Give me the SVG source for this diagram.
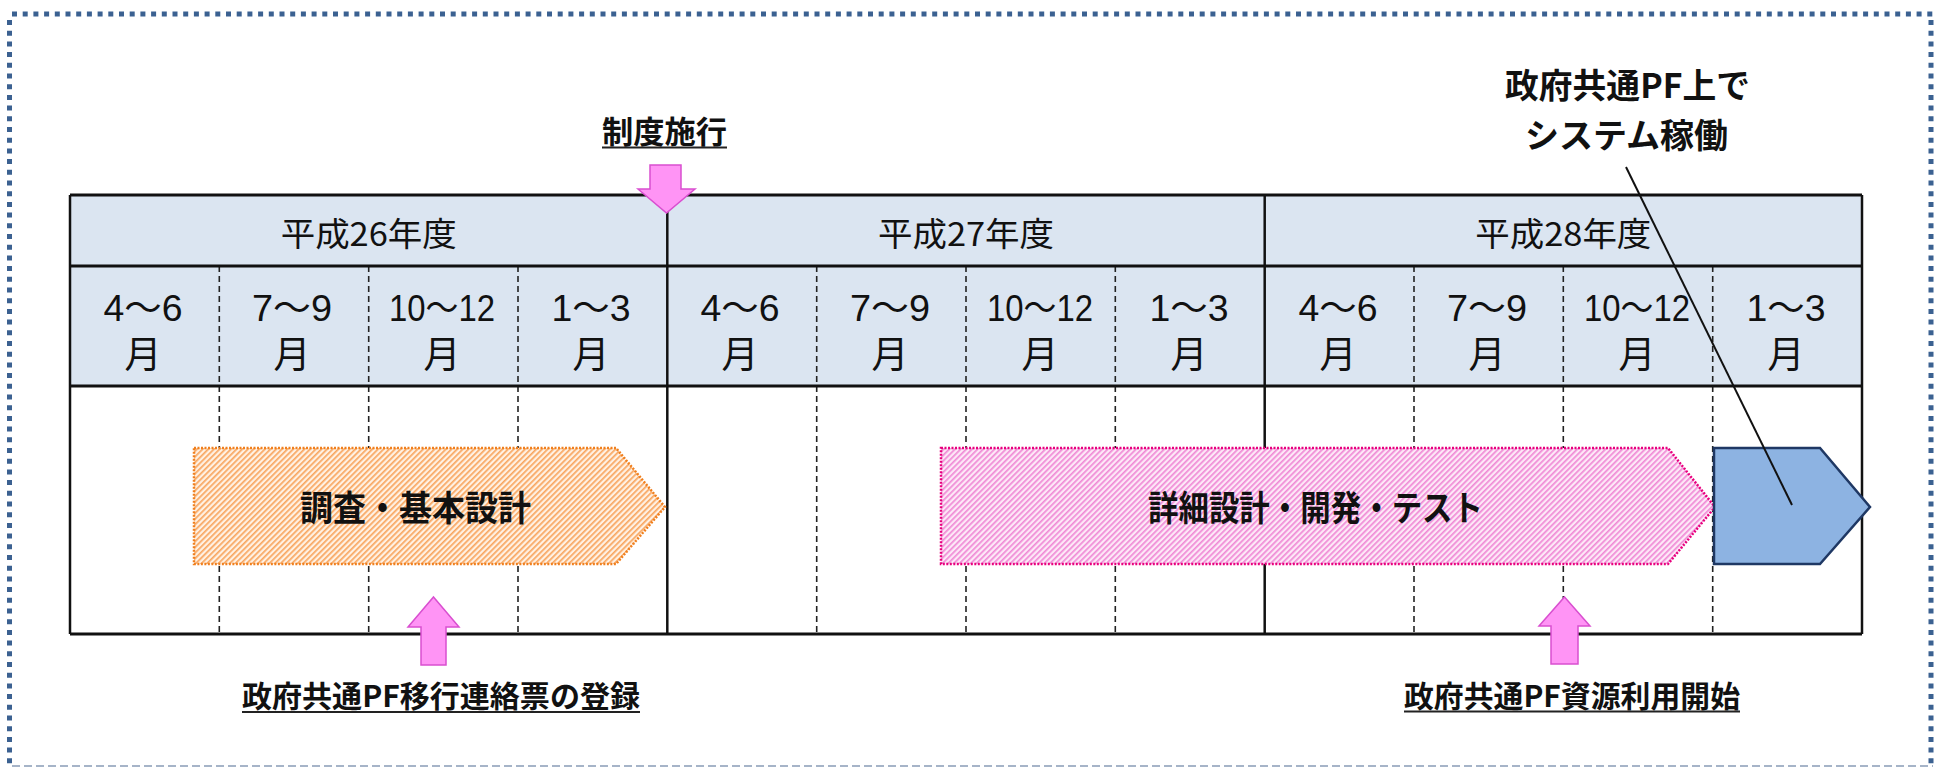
<svg xmlns="http://www.w3.org/2000/svg" width="1937" height="768" viewBox="0 0 1937 768">
<style>
.yr{font-family:"Noto Sans CJK JP","Noto Sans",sans-serif;font-size:33px;fill:#111;text-anchor:middle}
.mo{font-family:"Liberation Sans","Noto Sans CJK JP",sans-serif;font-size:36px;fill:#111;text-anchor:middle}
.mj{font-family:"Noto Sans CJK JP",sans-serif;font-size:37px;fill:#111;text-anchor:middle}
.lb{font-family:"Noto Sans CJK JP",sans-serif;font-weight:bold;fill:#111;text-anchor:middle}
.hl{stroke:#111;stroke-width:3;fill:none}
.vl{stroke:#111;stroke-width:2.5;fill:none}
.dl{stroke:#222;stroke-width:1.6;stroke-dasharray:6 4;fill:none}
.ul{stroke:#222;stroke-width:2;fill:none}
.parrow{fill:#ff94f5;stroke:#d94fd0;stroke-width:1.5}
</style>
<defs>
<pattern id="hatchO" width="4" height="4" patternUnits="userSpaceOnUse" patternTransform="rotate(45)">
<rect width="4" height="4" fill="#fff1e3"/>
<rect width="1.7" height="4" fill="#f8a660"/>
</pattern>
<pattern id="hatchP" width="4" height="4" patternUnits="userSpaceOnUse" patternTransform="rotate(45)">
<rect width="4" height="4" fill="#fde8f7"/>
<rect width="1.7" height="4" fill="#f08ad6"/>
</pattern>
</defs>
<rect x="0" y="0" width="1937" height="768" fill="#fff"/>
<g id="frame">
<line x1="12" y1="14" x2="1933" y2="14" stroke="#3b6191" stroke-width="5" stroke-dasharray="5 5.7"/>
<line x1="9.5" y1="20" x2="9.5" y2="766" stroke="#3b6191" stroke-width="5" stroke-dasharray="5 5.7"/>
<line x1="1931" y1="20" x2="1931" y2="766" stroke="#3b6191" stroke-width="5" stroke-dasharray="5 5.7"/>
<line x1="12" y1="766" x2="1933" y2="766" stroke="#a6b4c8" stroke-width="2" stroke-dasharray="8 4"/>
</g>
<g id="table">
<rect x="70" y="195" width="1792" height="191" fill="#dbe5f1"/>
<rect x="70" y="386" width="1792" height="248" fill="#fff"/>
<g id="dashes">
<line class="dl" x1="219.3" y1="266" x2="219.3" y2="634"/>
<line class="dl" x1="368.7" y1="266" x2="368.7" y2="634"/>
<line class="dl" x1="518" y1="266" x2="518" y2="634"/>
<line class="dl" x1="816.7" y1="266" x2="816.7" y2="634"/>
<line class="dl" x1="966" y1="266" x2="966" y2="634"/>
<line class="dl" x1="1115.3" y1="266" x2="1115.3" y2="634"/>
<line class="dl" x1="1414" y1="266" x2="1414" y2="634"/>
<line class="dl" x1="1563.3" y1="266" x2="1563.3" y2="634"/>
<line class="dl" x1="1712.7" y1="266" x2="1712.7" y2="634"/>
</g>
<line class="vl" x1="70" y1="195" x2="70" y2="634"/>
<line class="vl" x1="667.3" y1="195" x2="667.3" y2="634"/>
<line class="vl" x1="1264.7" y1="195" x2="1264.7" y2="634"/>
<line class="vl" x1="1862" y1="195" x2="1862" y2="634"/>
<line class="hl" x1="70" y1="195" x2="1862" y2="195"/>
<line class="hl" x1="70" y1="266" x2="1862" y2="266"/>
<line class="hl" x1="70" y1="386" x2="1862" y2="386"/>
<line class="hl" x1="70" y1="634" x2="1862" y2="634"/>
<text class="yr" x="368.7" y="246" textLength="176" lengthAdjust="spacingAndGlyphs">平成26年度</text>
<text class="yr" x="966" y="246" textLength="176" lengthAdjust="spacingAndGlyphs">平成27年度</text>
<text class="yr" x="1563.3" y="246" textLength="176" lengthAdjust="spacingAndGlyphs">平成28年度</text>
<g id="months">
<text class="mo" x="143" y="321" textLength="79" lengthAdjust="spacingAndGlyphs">4～6</text>
<text class="mo" x="292" y="321" textLength="80" lengthAdjust="spacingAndGlyphs">7～9</text>
<text class="mo" x="442" y="321" font-size="32" textLength="106" lengthAdjust="spacingAndGlyphs">10～12</text>
<text class="mo" x="591" y="321" textLength="79" lengthAdjust="spacingAndGlyphs">1～3</text>
<text class="mo" x="740" y="321" textLength="79" lengthAdjust="spacingAndGlyphs">4～6</text>
<text class="mo" x="890" y="321" textLength="80" lengthAdjust="spacingAndGlyphs">7～9</text>
<text class="mo" x="1040" y="321" font-size="32" textLength="106" lengthAdjust="spacingAndGlyphs">10～12</text>
<text class="mo" x="1189" y="321" textLength="79" lengthAdjust="spacingAndGlyphs">1～3</text>
<text class="mo" x="1338" y="321" textLength="79" lengthAdjust="spacingAndGlyphs">4～6</text>
<text class="mo" x="1487" y="321" textLength="80" lengthAdjust="spacingAndGlyphs">7～9</text>
<text class="mo" x="1637" y="321" font-size="32" textLength="106" lengthAdjust="spacingAndGlyphs">10～12</text>
<text class="mo" x="1786" y="321" textLength="79" lengthAdjust="spacingAndGlyphs">1～3</text>
<text class="mj" x="143" y="368">月</text>
<text class="mj" x="292" y="368">月</text>
<text class="mj" x="442" y="368">月</text>
<text class="mj" x="591" y="368">月</text>
<text class="mj" x="740" y="368">月</text>
<text class="mj" x="890" y="368">月</text>
<text class="mj" x="1040" y="368">月</text>
<text class="mj" x="1189" y="368">月</text>
<text class="mj" x="1338" y="368">月</text>
<text class="mj" x="1487" y="368">月</text>
<text class="mj" x="1637" y="368">月</text>
<text class="mj" x="1786" y="368">月</text>
</g>
</g>
<g id="bar-survey">
<polygon points="194,448 616,448 665,507 616,564 194,564" fill="url(#hatchO)" stroke="#f07f1d" stroke-width="2.5" stroke-dasharray="2 1.5"/>
<text class="lb" x="415.5" y="521" font-size="35" textLength="231" lengthAdjust="spacingAndGlyphs">調査・基本設計</text>
</g>
<g id="bar-dev">
<polygon points="941,448 1668,448 1715,507 1668,564 941,564" fill="url(#hatchP)" stroke="#e8007d" stroke-width="2.5" stroke-dasharray="2 1.5"/>
<text class="lb" x="1315.5" y="521" font-size="35" textLength="335" lengthAdjust="spacingAndGlyphs">詳細設計・開発・テスト</text>
</g>
<g id="bar-run">
<polygon points="1714,448 1820,448 1870,507 1820,564 1714,564" fill="#8db3e2" stroke="#1f3864" stroke-width="2.5"/>
</g>
<g id="label-enforce">
<text class="lb" x="664.5" y="143" font-size="31" textLength="125" lengthAdjust="spacingAndGlyphs">制度施行</text>
<line class="ul" x1="602" y1="147.5" x2="727" y2="147.5"/>
<polygon class="parrow" points="650,165 681,165 681,189 695,189 666.5,213 638,189 650,189"/>
</g>
<g id="label-register">
<polygon class="parrow" points="433.5,597 459,627 446,627 446,665 421,665 421,627 408,627"/>
<text class="lb" x="441" y="707" font-size="30" textLength="398" lengthAdjust="spacingAndGlyphs">政府共通PF移行連絡票の登録</text>
<line class="ul" x1="242" y1="712" x2="640" y2="712"/>
</g>
<g id="label-resource">
<polygon class="parrow" points="1564.5,597 1590,626 1578,626 1578,664 1551,664 1551,626 1539,626"/>
<text class="lb" x="1572" y="707" font-size="30" textLength="336" lengthAdjust="spacingAndGlyphs">政府共通PF資源利用開始</text>
<line class="ul" x1="1404" y1="711.5" x2="1740" y2="711.5"/>
</g>
<g id="label-operate">
<text class="lb" x="1627.5" y="98" font-size="34" textLength="245" lengthAdjust="spacingAndGlyphs">政府共通PF上で</text>
<text class="lb" x="1626.5" y="148" font-size="34" textLength="203" lengthAdjust="spacingAndGlyphs">システム稼働</text>
</g>
<g id="connectors">
<line x1="1626" y1="167" x2="1792" y2="505" stroke="#111" stroke-width="2"/>
</g>
</svg>
